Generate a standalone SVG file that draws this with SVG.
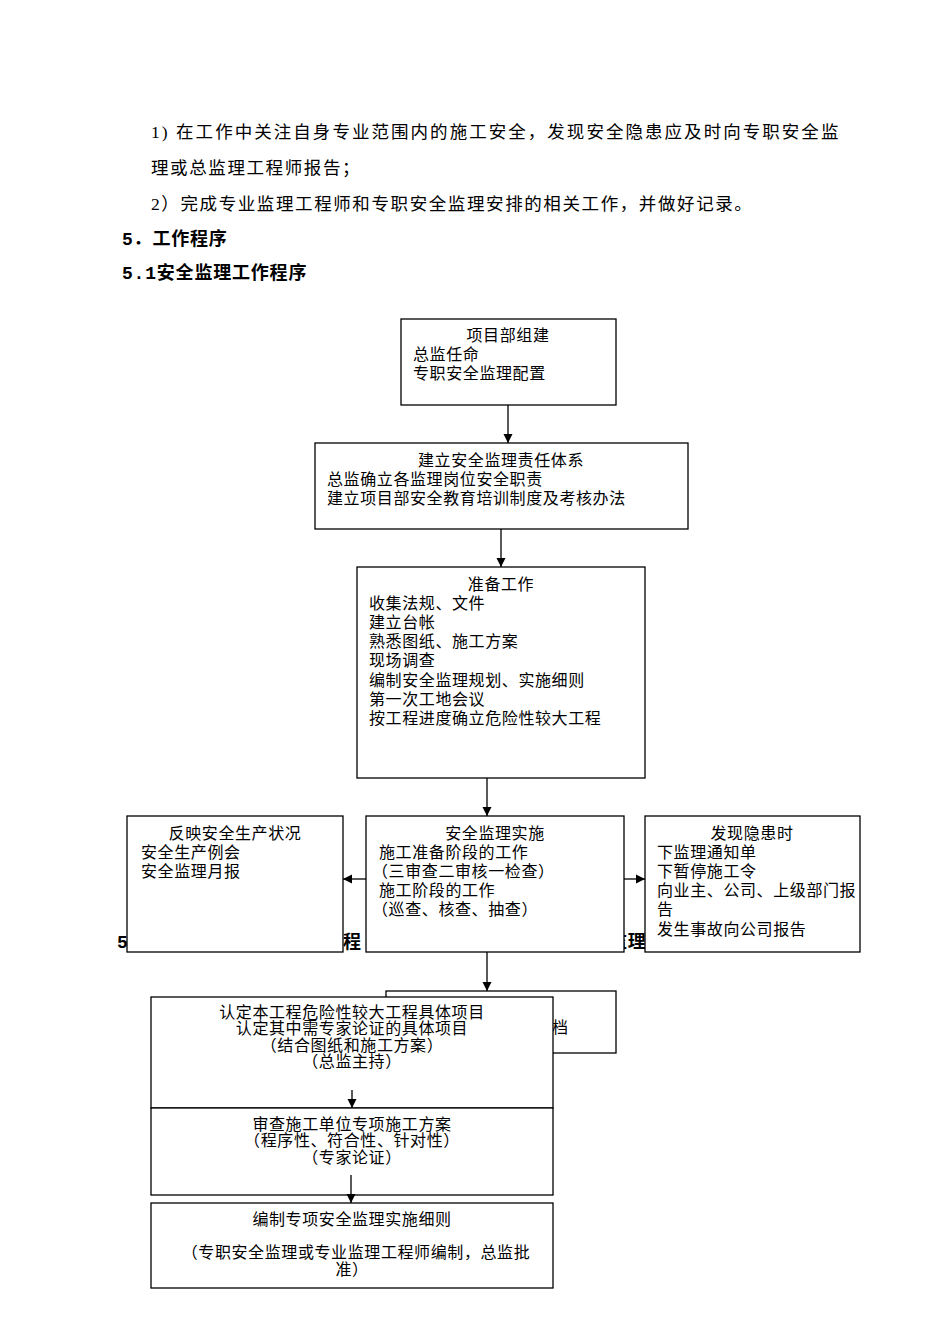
<svg xmlns="http://www.w3.org/2000/svg" width="950" height="1344" viewBox="0 0 950 1344">
<defs>
<marker id="ah" markerWidth="10" markerHeight="10" refX="9" refY="5" orient="auto" markerUnits="userSpaceOnUse">
<path d="M0,0.5 L9,5 L0,9.5 Z" fill="#000"/>
</marker>
<style>
.t{font-family:"Liberation Serif","Noto Sans CJK SC",serif;font-size:16px;fill:#000;letter-spacing:0.6px}
.p{font-family:"Liberation Serif","Noto Sans CJK SC",serif;font-size:17.5px;fill:#000;letter-spacing:1.6px}
.h{font-family:"Liberation Mono","Noto Sans CJK SC",sans-serif;font-size:18px;font-weight:bold;fill:#000;letter-spacing:0.8px}
.c{text-anchor:middle}
.b{fill:#fff;stroke:#000;stroke-width:1.3}
.l{stroke:#000;stroke-width:1.3;fill:none;marker-end:url(#ah)}
</style>
</defs>
<rect width="950" height="1344" fill="#fff"/>
<g id="text-top">
<text class="p" x="151" y="138" textLength="689" lengthAdjust="spacing">1) 在工作中关注自身专业范围内的施工安全，发现安全隐患应及时向专职安全监</text>
<text class="p" x="151" y="174">理或总监理工程师报告；</text>
<text class="p" x="151" y="210">2）完成专业监理工程师和专职安全监理安排的相关工作，并做好记录。</text>
<text class="h" x="122" y="245">5．工作程序</text>
<text class="h" x="122" y="279">5.1安全监理工作程序</text>
<text class="h" x="117" y="948">5</text>
<text class="h" x="343" y="948">程</text>
<text class="h" x="609" y="948">监理</text>
</g>
<g id="n1"><rect class="b" x="401" y="319" width="215" height="86"/>
<text class="t c" x="508" y="341">项目部组建</text>
<text class="t" x="413" y="360">总监任命</text>
<text class="t" x="413" y="379">专职安全监理配置</text></g>
<g id="n2"><rect class="b" x="315" y="443" width="373" height="86"/>
<text class="t c" x="501" y="466">建立安全监理责任体系</text>
<text class="t" x="327" y="485">总监确立各监理岗位安全职责</text>
<text class="t" x="327" y="504">建立项目部安全教育培训制度及考核办法</text></g>
<g id="n3"><rect class="b" x="357" y="567" width="288" height="211"/>
<text class="t c" x="501" y="590">准备工作</text>
<text class="t" x="369" y="609">收集法规、文件</text>
<text class="t" x="369" y="628">建立台帐</text>
<text class="t" x="369" y="647">熟悉图纸、施工方案</text>
<text class="t" x="369" y="666">现场调查</text>
<text class="t" x="369" y="686">编制安全监理规划、实施细则</text>
<text class="t" x="369" y="705">第一次工地会议</text>
<text class="t" x="369" y="724">按工程进度确立危险性较大工程</text></g>
<g id="n4"><rect class="b" x="127" y="816" width="216" height="136"/>
<text class="t c" x="235" y="839">反映安全生产状况</text>
<text class="t" x="141" y="858">安全生产例会</text>
<text class="t" x="141" y="877">安全监理月报</text></g>
<g id="n5"><rect class="b" x="366" y="816" width="258" height="136"/>
<text class="t c" x="495" y="839">安全监理实施</text>
<text class="t" x="379" y="858">施工准备阶段的工作</text>
<text class="t" x="372" y="877">（三审查二审核一检查）</text>
<text class="t" x="379" y="896">施工阶段的工作</text>
<text class="t" x="372" y="915">（巡查、核查、抽查）</text></g>
<g id="n6"><rect class="b" x="645" y="816" width="215" height="136"/>
<text class="t c" x="752" y="839">发现隐患时</text>
<text class="t" x="657" y="858">下监理通知单</text>
<text class="t" x="657" y="877">下暂停施工令</text>
<text class="t" x="657" y="896">向业主、公司、上级部门报</text>
<text class="t" x="657" y="915">告</text>
<text class="t" x="657" y="935">发生事故向公司报告</text></g>
<g id="n7"><rect class="b" x="386" y="991" width="230" height="62"/>
<text class="t" x="552" y="1033">档</text></g>
<g id="n8"><rect class="b" x="151" y="997" width="402" height="111"/>
<text class="t c" x="352" y="1018">认定本工程危险性较大工程具体项目</text>
<text class="t c" x="352" y="1034">认定其中需专家论证的具体项目</text>
<text class="t c" x="352" y="1051">（结合图纸和施工方案）</text>
<text class="t c" x="352" y="1067">（总监主持）</text></g>
<g id="n9"><rect class="b" x="151" y="1108" width="402" height="87"/>
<text class="t c" x="352" y="1130">审查施工单位专项施工方案</text>
<text class="t c" x="352" y="1146">（程序性、符合性、针对性）</text>
<text class="t c" x="352" y="1163">（专家论证）</text></g>
<g id="n10"><rect class="b" x="151" y="1203" width="402" height="85"/>
<text class="t c" x="352" y="1225">编制专项安全监理实施细则</text>
<text class="t c" x="356" y="1258">（专职安全监理或专业监理工程师编制，总监批</text>
<text class="t c" x="352" y="1275">准）</text></g>
<g id="connectors">
<line class="l" x1="508" y1="405" x2="508" y2="443"/>
<line class="l" x1="501" y1="529" x2="501" y2="567"/>
<line class="l" x1="487" y1="778" x2="487" y2="816"/>
<line class="l" x1="366" y1="879" x2="343" y2="879"/>
<line class="l" x1="624" y1="879" x2="645" y2="879"/>
<line class="l" x1="487" y1="952" x2="487" y2="991"/>
<line class="l" x1="352" y1="1090" x2="352" y2="1108"/>
<line class="l" x1="351" y1="1175" x2="351" y2="1203"/>
</g>
</svg>
